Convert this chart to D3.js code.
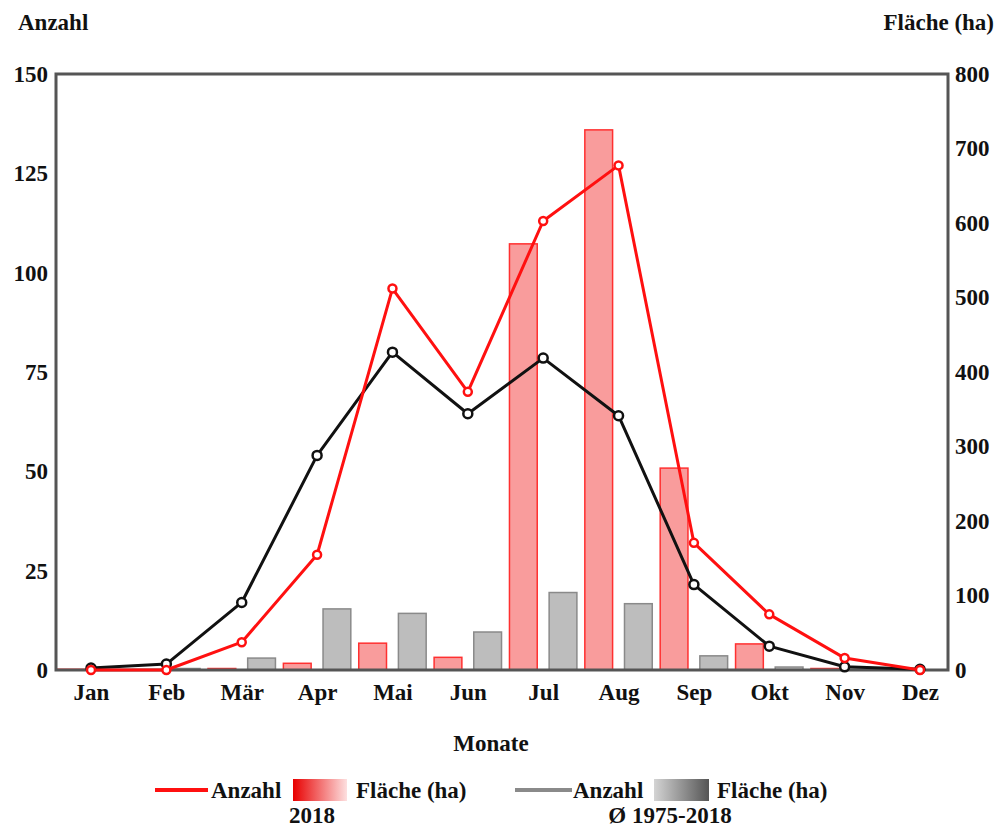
<!DOCTYPE html>
<html><head><meta charset="utf-8">
<script src="https://cdn.jsdelivr.net/npm/d3@7"></script>
<style>body{margin:0;background:#fff}svg{display:block}text{font-family:"Liberation Serif","Times New Roman",serif;font-weight:bold;fill:#111}</style>
</head><body><svg id="c" width="1001" height="829"></svg>
<script>
const months = ["Jan","Feb","Mär","Apr","Mai","Jun","Jul","Aug","Sep","Okt","Nov","Dez"];
const anzahl2018 = [0,0,7,29,96,70,113,127,32,14,3,0];
const anzahlAvg = [0.5,1.5,17,54,80,64.5,78.5,64,21.5,6,0.8,0.2];
const flaeche2018 = [1,0.5,2,9,36,17,572,725,271,35,2,0];
const flaecheAvg = [0.3,2,16,82,76,51,104,89,19,4,0.5,0];
const leftTicks = [0,25,50,75,100,125,150];
const rightTicks = [0,100,200,300,400,500,600,700,800];

const FS = 23;
const svg = d3.select("#c");
const L=56,R=948,T=74,B=670;
const x = d3.scalePoint().domain(months).range([91,920]);
const step = x.step();
const xb = d3.scaleBand().domain(["2018","avg"]).range([-step/2,step/2]).paddingInner(0.3).paddingOuter(0.1);
const yL = d3.scaleLinear().domain([0,150]).range([B,T]);
const yR = d3.scaleLinear().domain([0,800]).range([B,T]);

const defs = svg.append("defs");
const g1 = defs.append("linearGradient").attr("id","gr");
g1.append("stop").attr("offset","0").attr("stop-color","#e80000");
g1.append("stop").attr("offset","1").attr("stop-color","#fde0e0");
const g2 = defs.append("linearGradient").attr("id","gg");
g2.append("stop").attr("offset","0").attr("stop-color","#d4d4d4");
g2.append("stop").attr("offset","1").attr("stop-color","#555");

// bars
const barData = months.map((m,i)=>({m, a:flaeche2018[i], b:flaecheAvg[i]}));
svg.append("g").selectAll("rect").data(barData).join("rect")
  .attr("x",d=>x(d.m)+xb("2018")).attr("width",xb.bandwidth())
  .attr("y",d=>yR(d.a)).attr("height",d=>B-yR(d.a))
  .attr("fill","#f99c9c").attr("stroke","#ff3030").attr("stroke-width",1.5);
svg.append("g").selectAll("rect").data(barData).join("rect")
  .attr("x",d=>x(d.m)+xb("avg")).attr("width",xb.bandwidth())
  .attr("y",d=>yR(d.b)).attr("height",d=>B-yR(d.b))
  .attr("fill","#bdbdbd").attr("stroke","#8a8a8a").attr("stroke-width",1.5);

// frame
svg.append("rect").attr("x",L).attr("y",T).attr("width",R-L).attr("height",B-T)
  .attr("fill","none").attr("stroke","#555").attr("stroke-width",3);

// lines
const line = d3.line().x((d,i)=>x(months[i])).y(d=>yL(d));
function series(data,color,r){
  svg.append("path").datum(data).attr("d",line).attr("fill","none").attr("stroke",color).attr("stroke-width",3).attr("stroke-linejoin","round");
  svg.append("g").selectAll("circle").data(data).join("circle")
    .attr("cx",(d,i)=>x(months[i])).attr("cy",d=>yL(d)).attr("r",r)
    .attr("fill","#fff").attr("stroke",color).attr("stroke-width",2.5);
}
series(anzahlAvg,"#111",4.5);
series(anzahl2018,"#ff1010",4);

// axes
const axL = d3.axisLeft(yL).tickValues(leftTicks).tickSize(0).tickPadding(8);
const gL = svg.append("g").attr("transform",`translate(${L},0)`).call(axL);
const axR = d3.axisRight(yR).tickValues(rightTicks).tickSize(0).tickPadding(7);
const gR = svg.append("g").attr("transform",`translate(${R},0)`).call(axR);
const axB = d3.axisBottom(x).tickSize(0).tickPadding(14);
const gB = svg.append("g").attr("transform",`translate(0,${B})`).call(axB);
[gL,gR,gB].forEach(g=>{g.select(".domain").remove();g.selectAll("text").attr("font-size",FS).attr("font-family","Liberation Serif, serif").attr("font-weight","bold").attr("fill","#111");});

svg.append("text").attr("x",18).attr("y",30).attr("font-size",FS).text("Anzahl");
svg.append("text").attr("x",994).attr("y",30).attr("font-size",FS).attr("text-anchor","end").text("Fläche (ha)");
svg.append("text").attr("x",491).attr("y",751).attr("font-size",FS).attr("text-anchor","middle").text("Monate");

// legend
const lg = svg.append("g");
lg.append("line").attr("x1",155).attr("x2",208).attr("y1",790).attr("y2",790).attr("stroke","#ff1010").attr("stroke-width",4);
lg.append("text").attr("x",211).attr("y",798).attr("font-size",FS).text("Anzahl");
lg.append("rect").attr("x",293).attr("y",779).attr("width",54).attr("height",22).attr("fill","url(#gr)");
lg.append("text").attr("x",356).attr("y",798).attr("font-size",FS).text("Fläche (ha)");
lg.append("text").attr("x",312).attr("y",823).attr("font-size",FS).attr("text-anchor","middle").text("2018");
lg.append("line").attr("x1",515).attr("x2",572).attr("y1",790).attr("y2",790).attr("stroke","#8a8a8a").attr("stroke-width",4);
lg.append("text").attr("x",573).attr("y",798).attr("font-size",FS).text("Anzahl");
lg.append("rect").attr("x",654).attr("y",779).attr("width",55).attr("height",22).attr("fill","url(#gg)");
lg.append("text").attr("x",717).attr("y",798).attr("font-size",FS).text("Fläche (ha)");
lg.append("text").attr("x",670).attr("y",823).attr("font-size",FS).attr("text-anchor","middle").text("Ø 1975-2018");
</script></body></html>
